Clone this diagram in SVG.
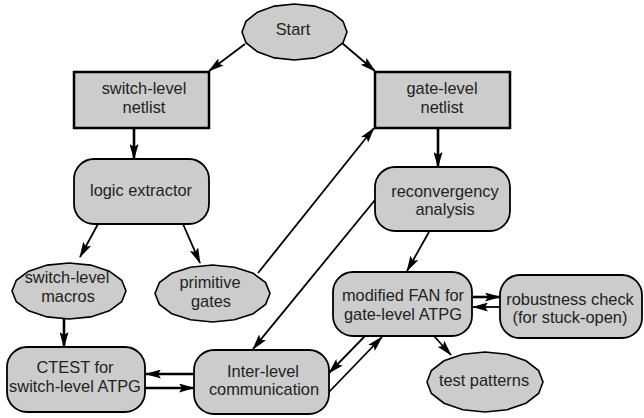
<svg xmlns="http://www.w3.org/2000/svg" width="644" height="418" viewBox="0 0 644 418">
<style>
.box{fill:#cccccc;stroke:#000;stroke-width:2.5}
.rnd{fill:#cccccc;stroke:#000;stroke-width:1.8}
.ell{fill:#cccccc;stroke:#000;stroke-width:1.6}
text{font-family:"Liberation Sans",Arial,sans-serif;font-size:16.4px;fill:#222;text-anchor:middle}
.c line{stroke:#000;stroke-width:1.8;marker-end:url(#ah)}
.c line.t{stroke-width:2.6}
</style>
<defs>
<marker id="ah" viewBox="0 -4.5 16 9" refX="15" refY="0" markerWidth="16" markerHeight="9" markerUnits="userSpaceOnUse" orient="auto">
<path d="M0,-4.5 L16,0 L0,4.5 L3,0 z" fill="#000"/>
</marker>
</defs>
<g class="c" id="connectors">
<line x1="245" y1="44" x2="209" y2="71"/>
<line x1="342" y1="43" x2="375" y2="71"/>
<line class="t" x1="134" y1="128" x2="134" y2="159"/>
<line class="t" x1="438" y1="128" x2="438" y2="167"/>
<line x1="98" y1="224" x2="80" y2="257"/>
<line x1="183" y1="224" x2="200" y2="263"/>
<line x1="258" y1="273" x2="374" y2="128"/>
<line x1="375" y1="200" x2="253" y2="349"/>
<line x1="429" y1="232" x2="407" y2="271"/>
<line class="t" x1="64" y1="319" x2="64" y2="347"/>
<line class="t" x1="194" y1="374" x2="146" y2="374"/>
<line class="t" x1="145" y1="388" x2="194" y2="388"/>
<line class="t" x1="473" y1="297" x2="500" y2="297"/>
<line x1="500" y1="307" x2="473" y2="307"/>
<line x1="434" y1="336" x2="451" y2="355"/>
<line x1="365" y1="336" x2="329" y2="373"/>
<line x1="329" y1="392" x2="382" y2="337"/>
</g>
<g id="start">
<polygon class="ell" points="347,32 343,42.7 331.6,51.8 314.6,57.9 294.5,60 274.4,57.9 257.4,51.8 246,42.7 242,32 246,21.3 257.4,12.2 274.4,6.1 294.5,4 314.6,6.1 331.6,12.2 343,21.3"/>
<text x="293" y="35">Start</text>
</g>
<g id="switch-netlist">
<rect class="box" x="74" y="72" width="135" height="56"/>
<text x="144" y="94">switch-level</text>
<text x="144" y="113">netlist</text>
</g>
<g id="gate-netlist">
<rect class="box" x="375" y="72" width="135" height="56"/>
<text x="442" y="94">gate-level</text>
<text x="442" y="113">netlist</text>
</g>
<g id="logic-extractor">
<rect class="rnd" x="74" y="159" width="135" height="65" rx="20" ry="20"/>
<text x="141" y="196">logic extractor</text>
</g>
<g id="reconvergency">
<rect class="rnd" x="375" y="167" width="135" height="64" rx="20" ry="20"/>
<text x="445" y="197">reconvergency</text>
<text x="445" y="215">analysis</text>
</g>
<g id="switch-macros">
<polygon class="ell" points="126,291 121.7,301.7 109.3,310.8 90.8,316.9 69,319 47.2,316.9 28.7,310.8 16.3,301.7 12,291 16.3,280.3 28.7,271.2 47.2,265.1 69,263 90.8,265.1 109.3,271.2 121.7,280.3"/>
<text x="67" y="283">switch-level</text>
<text x="68" y="302">macros</text>
</g>
<g id="primitive-gates">
<polygon class="ell" points="270,293.5 265.6,304.4 253.2,313.7 234.5,319.8 212.5,322 190.5,319.8 171.8,313.7 159.4,304.4 155,293.5 159.4,282.6 171.8,273.3 190.5,267.2 212.5,265 234.5,267.2 253.2,273.3 265.6,282.6"/>
<text x="210" y="288">primitive</text>
<text x="211" y="307">gates</text>
</g>
<g id="modified-fan">
<rect class="rnd" x="333" y="272" width="139" height="64" rx="20" ry="20"/>
<text x="403" y="301">modified FAN for</text>
<text x="403" y="320">gate-level ATPG</text>
</g>
<g id="robustness">
<rect class="rnd" x="500" y="275" width="142" height="63" rx="20" ry="20"/>
<text x="570" y="305">robustness check</text>
<text x="570" y="323">(for stuck-open)</text>
</g>
<g id="test-patterns">
<polygon class="ell" points="543,382 538.6,393.5 526,403.2 507.2,409.7 485,412 462.8,409.7 444,403.2 431.4,393.5 427,382 431.4,370.5 444,360.8 462.8,354.3 485,352 507.2,354.3 526,360.8 538.6,370.5"/>
<text x="484" y="386">test patterns</text>
</g>
<g id="ctest">
<rect class="rnd" x="7" y="347" width="138" height="65" rx="20" ry="20"/>
<text x="75" y="373">CTEST for</text>
<text x="75" y="392">switch-level ATPG</text>
</g>
<g id="inter-level">
<rect class="rnd" x="194" y="350" width="135" height="64" rx="20" ry="20"/>
<text x="263" y="377">Inter-level</text>
<text x="264" y="395">communication</text>
</g>
</svg>
